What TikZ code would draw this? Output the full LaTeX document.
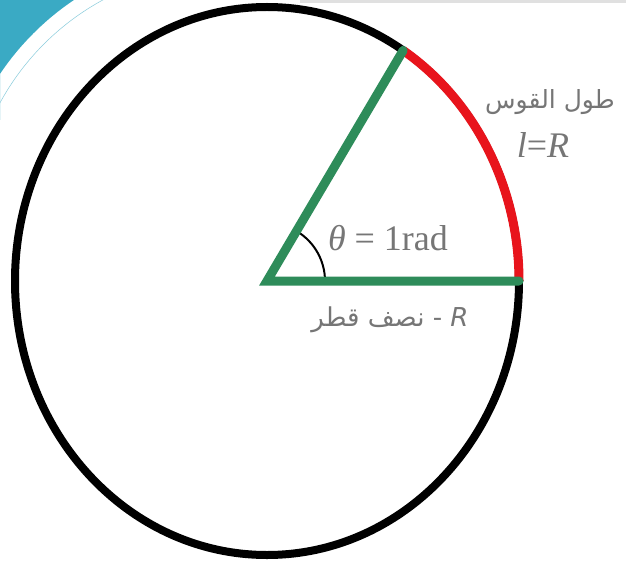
\documentclass[tikz,border=0pt]{standalone}
\usepackage{fontspec}
\usetikzlibrary{calc}
\setmainfont{Liberation Serif}
\newfontfamily\arabicfont[Script=Arabic]{DejaVu Sans}
\TeXXeTstate=1
\definecolor{radgreen}{RGB}{46,140,90}
\definecolor{radred}{RGB}{232,20,28}
\definecolor{labelgray}{RGB}{118,118,118}
\definecolor{cornerteal}{RGB}{58,170,196}
\tikzset{
  rim/.style={line width=8pt, black},
  radius line/.style={line width=9pt, radgreen},
  arc line/.style={line width=9pt, radred},
  lbl/.style={text=labelgray, inner sep=1pt},
}
\begin{document}
\begin{tikzpicture}[x=1pt,y=-1pt]
    \useasboundingbox (0,0) rectangle (626,564);
    \fill[white] (0,0) rectangle (626,564);
    \fill[black!12] (300,0) rectangle (626,3);

    % corner decoration
    \begin{scope}
        \clip (0,0) rectangle (120,120);
        \fill[cornerteal, even odd rule] (0,0) rectangle (300,300) (225,225) circle (271pt);
        \draw[cornerteal!60, line width=0.5pt] (225,225) circle (256pt);
    \end{scope}

    \coordinate (O) at (267,281);
    \coordinate (A) at ($(O)+(0:252pt and 274pt)$);
    \coordinate (B) at ($(O)+(57.3:252pt and 274pt)$);

    \draw[rim] (O) ellipse [x radius=252pt, y radius=274pt];
    \draw[arc line] (A) arc [start angle=0, end angle=57.3, x radius=252pt, y radius=274pt];
    \draw[black, line width=2pt] ($(O)+(58pt,0)$) arc [start angle=0, end angle=58.6, radius=58pt];
    \draw[radius line, line cap=round] (A) -- (O) -- (B);

    \node[lbl, font=\fontsize{36}{40}\selectfont] (theta) at (388,238) {\textit{θ} = 1rad};
    \node[lbl, font=\fontsize{26}{30}\selectfont] (radius) at (390,320)
        {\arabicfont\beginR\beginL\textit{R}\endL{} - نصف قطر\endR};
    \node[lbl, font=\fontsize{25}{30}\selectfont] (arclen) at (550,102)
        {\arabicfont\beginR طول القوس\endR};
    \node[lbl, font=\fontsize{36}{40}\selectfont] (ell) at (543,145) {\textit{l}=\textit{R}};
\end{tikzpicture}
\end{document}
